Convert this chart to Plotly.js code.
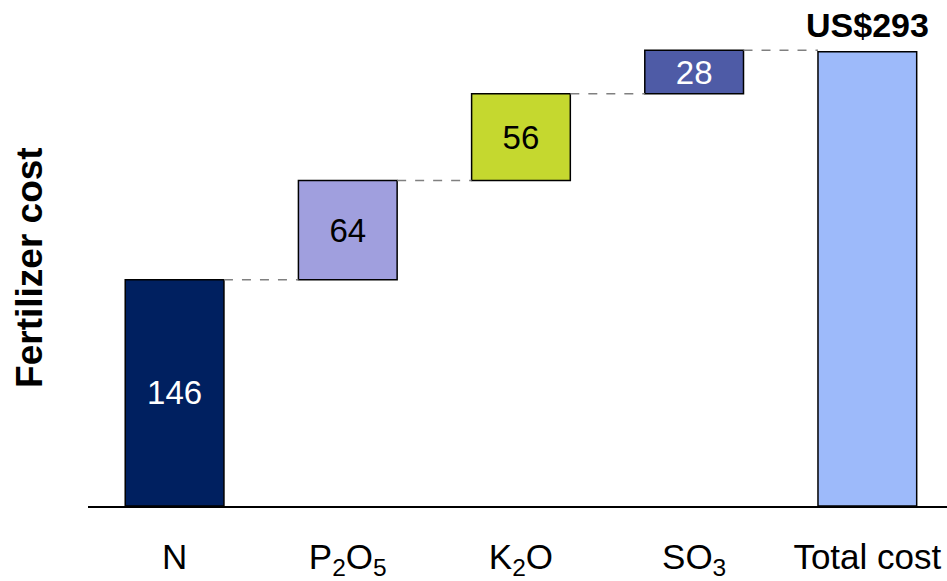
<!DOCTYPE html>
<html>
<head>
<meta charset="utf-8">
<script src="https://cdn.plot.ly/plotly-3.0.1.min.js"></script>
<style>
  html, body { margin: 0; padding: 0; background: #ffffff; }
  #chart { width: 947px; height: 581px; }
</style>
</head>
<body>
<div id="chart"></div>
<script>
// Fertilizer cost breakdown (US$), built up nutrient by nutrient
const categories = ['N', 'P<sub>2</sub>O<sub>5</sub>', 'K<sub>2</sub>O', 'SO<sub>3</sub>', 'Total cost'];
const increments = [146, 64, 56, 28];
const totalCost = 293;
const barColors = ['#002060', '#A09FDE', '#C5D82F', '#4E5BA6', '#9DBAFA'];
const labelColors = ['#ffffff', '#000000', '#000000', '#ffffff'];

// running bases for the floating bars
const bases = [];
const tops = [];
let running = 0;
increments.forEach(v => { bases.push(running); running += v; tops.push(running); });

const barBase = bases.concat([0]);
const barHeight = increments.concat([totalCost]);
const barText = increments.map(String).concat(['']);

const BAR_W = 0.57;
const FONT = 'Arial, "Liberation Sans", sans-serif';

const trace = {
  type: 'bar',
  x: [0, 1, 2, 3, 4],
  y: barHeight,
  base: barBase,
  width: BAR_W,
  marker: { color: barColors, line: { color: '#000000', width: 1.5 } },
  text: barText,
  textposition: 'inside',
  insidetextanchor: 'middle',
  constraintext: 'none',
  textfont: { family: FONT, size: 33, color: labelColors.concat(['#000000']) },
  hoverinfo: 'skip',
  cliponaxis: false
};

// dashed connectors between consecutive bar tops
const shapes = tops.map((t, i) => ({
  type: 'line', xref: 'x', yref: 'y',
  x0: i + BAR_W / 2, x1: i + 1 - BAR_W / 2,
  y0: t, y1: t,
  line: { color: '#808080', width: 1.5, dash: 'dash' }
}));

const layout = {
  width: 947, height: 581,
  margin: { l: 88, r: 0, t: 10, b: 75 },
  paper_bgcolor: '#ffffff', plot_bgcolor: '#ffffff',
  showlegend: false,
  font: { family: FONT, color: '#000000' },
  xaxis: {
    range: [-0.5, 4.46],
    tickmode: 'array',
    tickvals: [0, 1, 2, 3, 4],
    ticktext: categories,
    ticks: '',
    showgrid: false, zeroline: false,
    showline: true, linecolor: '#000000', linewidth: 2,
    tickfont: { family: FONT, size: 35, color: '#000000' },
    ticklabelstandoff: 19,
    fixedrange: true
  },
  yaxis: {
    range: [0, 320],
    showticklabels: false, ticks: '',
    showgrid: false, zeroline: false, showline: false,
    fixedrange: true
  },
  shapes: shapes,
  annotations: [
    {
      x: 4, y: totalCost, xref: 'x', yref: 'y',
      text: '<b>US$' + totalCost + '</b>',
      showarrow: false, yanchor: 'bottom', yshift: 6,
      font: { family: FONT, size: 34, color: '#000000' }
    },
    {
      x: -0.0675, y: 0.48, xref: 'paper', yref: 'paper',
      text: '<b>Fertilizer cost</b>',
      textangle: -90, showarrow: false,
      xanchor: 'center', yanchor: 'middle',
      font: { family: FONT, size: 37, color: '#000000' }
    }
  ]
};

Plotly.newPlot('chart', [trace], layout, { displayModeBar: false, staticPlot: true });
</script>
</body>
</html>
